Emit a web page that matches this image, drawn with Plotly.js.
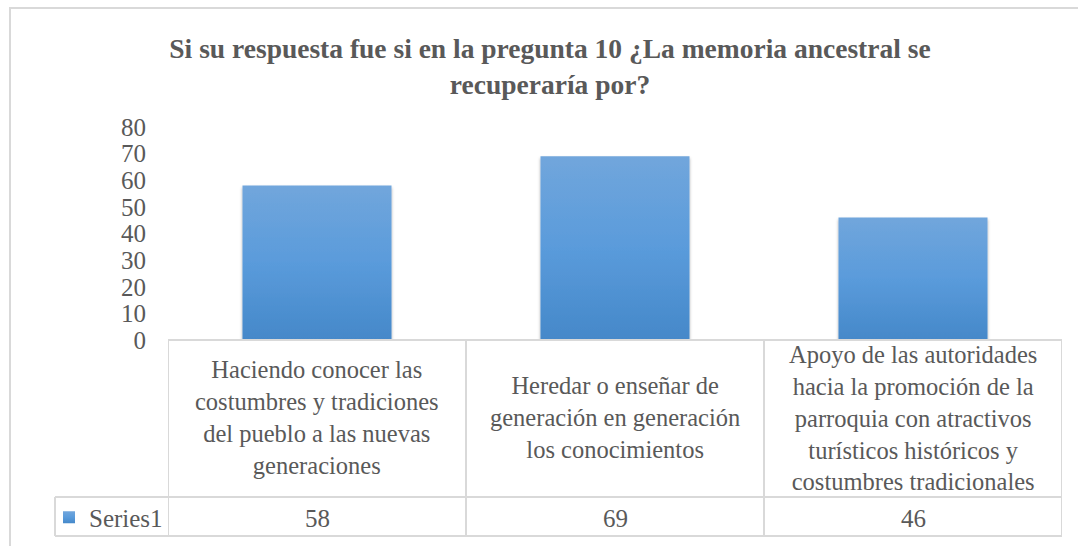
<!DOCTYPE html>
<html>
<head>
<meta charset="utf-8">
<script src="https://cdn.plot.ly/plotly-3.0.1.min.js"></script>
<style>
  html, body { margin: 0; padding: 0; background: #ffffff; }
  #wrap { position: relative; width: 1078px; height: 546px; overflow: hidden; }
  #chart { position: absolute; left: 0; top: 0; width: 1078px; height: 546px; }
  #frame { position: absolute; left: 9px; top: 7px; width: 1080px; height: 560px;
           border-top: 2px solid #d9d9d9; border-left: 2px solid #d9d9d9; pointer-events: none; }
</style>
</head>
<body>
<div id="wrap">
  <div id="chart"></div>
  <div id="frame"></div>
</div>
<script>
// ---- data ----
const titleText = "Si su respuesta fue si en la pregunta 10 ¿La memoria ancestral se<br>recuperaría por?";
const categories = [
  "Haciendo conocer las costumbres y tradiciones del pueblo a las nuevas generaciones",
  "Heredar o enseñar de generación en generación los conocimientos",
  "Apoyo de las autoridades hacia la promoción de la parroquia con atractivos turísticos históricos y costumbres tradicionales"
];
const categoryLabels = [
  "Haciendo conocer las<br>costumbres y tradiciones<br>del pueblo a las nuevas<br>generaciones",
  "Heredar o enseñar de<br>generación en generación<br>los conocimientos",
  "Apoyo de las autoridades<br>hacia la promoción de la<br>parroquia con atractivos<br>turísticos históricos y<br>costumbres tradicionales"
];
const seriesName = "Series1";
const values = [58, 69, 46];
const yTicks = [0, 10, 20, 30, 40, 50, 60, 70, 80];

// ---- layout helpers (pixels -> paper) ----
const W = 1078, H = 546;
const L = 168, R = 16, T = 127, B = 206;
const pw = W - L - R, ph = H - T - B;
const px = x => (x - L) / pw;
const py = y => (H - B - y) / ph;

const textColor = "#595959";
const lineColor = "#d9d9d9";
const font = "Liberation Serif, Times New Roman, serif";

const idx = categories.map((c, i) => i);

const trace = {
  type: "bar",
  x: idx,
  y: values,
  name: seriesName,
  marker: { color: "#5b9bd5", line: { width: 0 } },
  hoverinfo: "skip",
  showlegend: true
};

const rowTop = 340, rowMid = 497, rowBot = 536, legLeft = 55;
const shapes = [];
const ln = (x0, y0, x1, y1) => shapes.push({
  type: "line", xref: "paper", yref: "paper",
  x0: x0, y0: y0, x1: x1, y1: y1,
  line: { color: lineColor, width: 2 }, layer: "above"
});
// horizontal table lines
ln(px(L), py(rowTop), px(W - R), py(rowTop));
ln(px(legLeft), py(rowMid), px(W - R), py(rowMid));
ln(px(legLeft), py(rowBot), px(W - R), py(rowBot));
// vertical lines
ln(px(legLeft), py(rowMid), px(legLeft), py(rowBot));
[-0.5].concat(idx.map(i => i + 0.5)).forEach(xc => {
  shapes.push({ type: "line", xref: "x", yref: "paper", x0: xc, x1: xc,
    y0: py(rowTop), y1: py(rowBot), line: { color: lineColor, width: 2 }, layer: "above" });
});

const annotations = [];
idx.forEach(i => {
  annotations.push({
    xref: "x", yref: "paper", x: i, y: py((rowTop + rowMid) / 2 - 1),
    text: categoryLabels[i], showarrow: false, xanchor: "center", yanchor: "middle",
    align: "center", font: { family: font, size: 24.5, color: textColor }
  });
  annotations.push({
    xref: "x", yref: "paper", x: i, y: py((rowMid + rowBot) / 2 + 2),
    text: String(values[i]), showarrow: false, xanchor: "center", yanchor: "middle",
    font: { family: font, size: 25, color: textColor }
  });
});

const layout = {
  width: W, height: H,
  margin: { l: L, r: R, t: T, b: B, pad: 0, autoexpand: false },
  paper_bgcolor: "#ffffff", plot_bgcolor: "#ffffff",
  title: {
    text: "<b>" + titleText + "</b>",
    x: 550 / W, xref: "container", xanchor: "center",
    y: 1 - 58 / H, yref: "container", yanchor: "middle",
    font: { family: font, size: 27.5, color: textColor }
  },
  bargap: 0.5,
  xaxis: {
    range: [-0.5, 2.5], showticklabels: false, showgrid: false, zeroline: false,
    showline: false, ticks: "", fixedrange: true, automargin: false
  },
  yaxis: {
    range: [0, 80], tickvals: yTicks, ticktext: yTicks.map(String),
    showgrid: false, zeroline: false, showline: false, ticks: "",
    ticklabelstandoff: 21, automargin: false,
    tickfont: { family: font, size: 25, color: textColor }, fixedrange: true
  },
  showlegend: true,
  legend: {
    x: px(legLeft - 6), xanchor: "left", y: py((rowMid + rowBot) / 2 + 1), yanchor: "middle",
    xref: "paper", yref: "paper",
    bgcolor: "rgba(0,0,0,0)", borderwidth: 0,
    font: { family: font, size: 25, color: textColor },
    itemwidth: 30, tracegroupgap: 0
  },
  shapes: shapes,
  annotations: annotations
};

Plotly.newPlot("chart", [trace], layout, { displayModeBar: false, staticPlot: true }).then(gd => {
  // Excel-style vertical gradient and soft shadow on the bars
  const svg = gd.querySelector("svg.main-svg");
  const ns = "http://www.w3.org/2000/svg";
  const defs = document.createElementNS(ns, "defs");
  defs.innerHTML =
    '<linearGradient id="barGrad" x1="0" y1="0" x2="0" y2="1">' +
    '<stop offset="0" stop-color="#71a6dc"/><stop offset="0.5" stop-color="#5a9bdb"/>' +
    '<stop offset="1" stop-color="#4588c9"/></linearGradient>' +
    '<filter id="barShadow" x="-10%" y="-10%" width="120%" height="120%">' +
    '<feDropShadow dx="0" dy="2" stdDeviation="1.6" flood-color="#000" flood-opacity="0.35"/></filter>';
  svg.insertBefore(defs, svg.firstChild);
  gd.querySelectorAll(".bars .point path").forEach(p => {
    p.style.fill = "url(#barGrad)";
    p.setAttribute("filter", "url(#barShadow)");
  });
  gd.querySelectorAll(".legend .legendpoints path").forEach(p => {
    p.style.fill = "url(#barGrad)";
  });
});
</script>
</body>
</html>
